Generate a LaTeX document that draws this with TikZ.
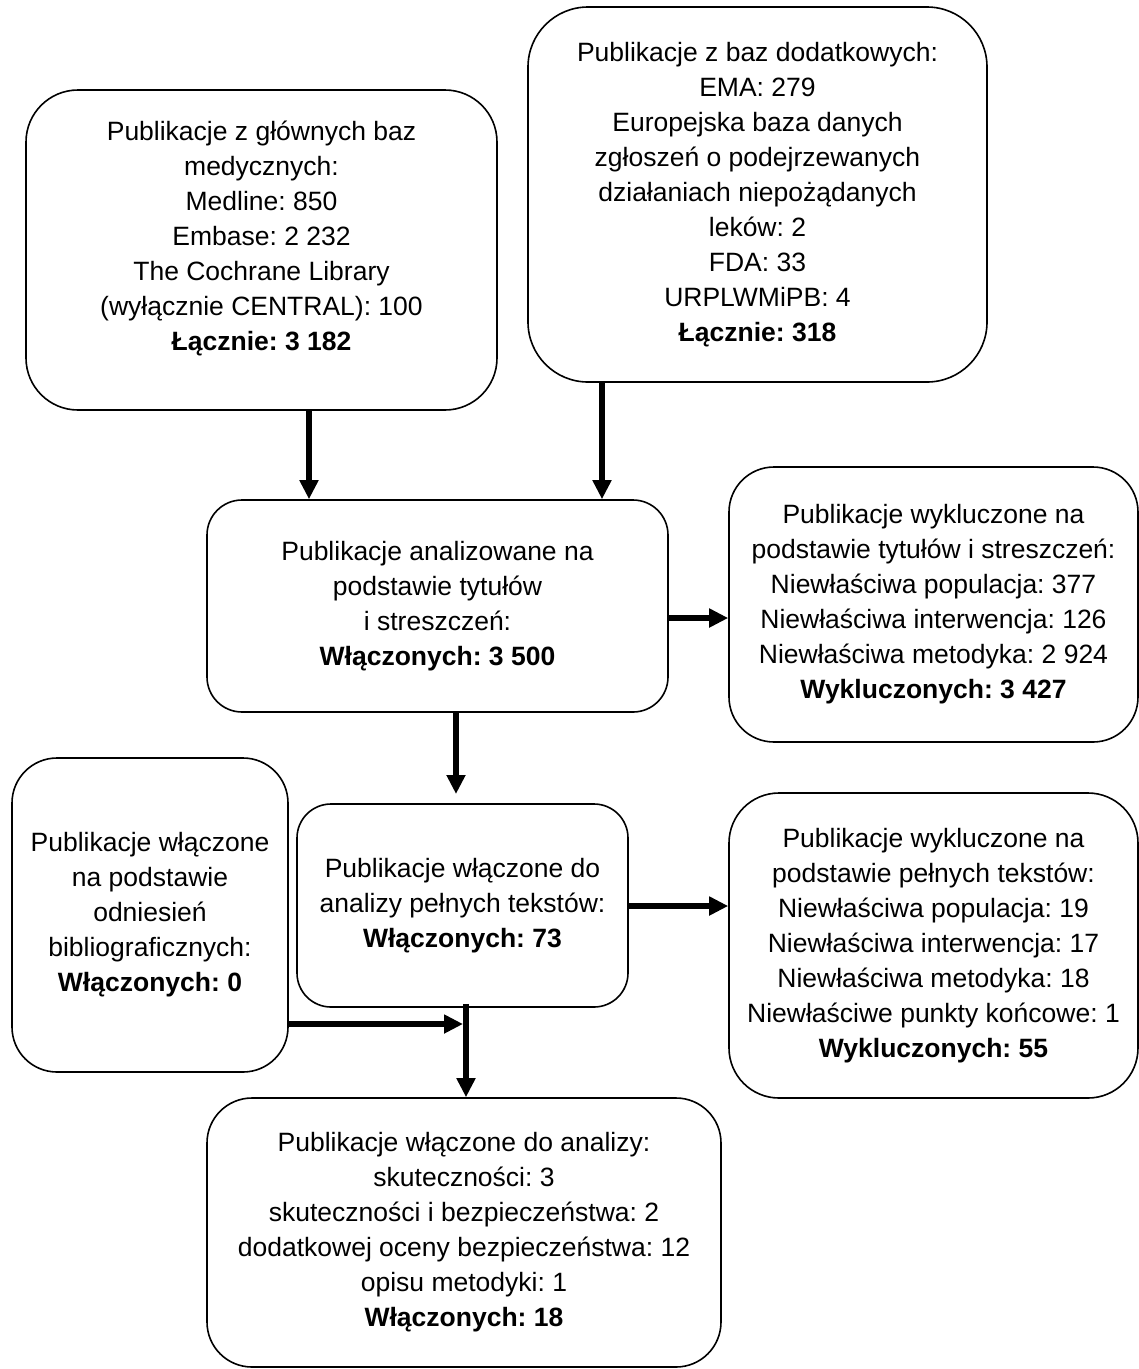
\documentclass[tikz,border=0pt]{standalone}
\usepackage{fontspec}
\setmainfont{Liberation Sans}
\usetikzlibrary{arrows.meta,calc}
\frenchspacing
\begin{document}
\begin{tikzpicture}[x=1pt,y=-1pt,
  box/.style={draw=black, line width=1.6pt, rectangle, align=center, inner sep=0pt, fill=white,
    font=\fontsize{26.5}{35}\selectfont},
  arr/.style={line width=5.5pt, -{Triangle[length=19pt,width=18pt]}}]
\fill[white] (0,0) rectangle (1139,1369);
\useasboundingbox (0,0) rectangle (1139,1369);

% boxes
\node[box, minimum width=471pt, minimum height=320pt, rounded corners=52pt] (b1) at (261.5,250)
 {\raisebox{5pt}[0pt][0pt]{\begin{tabular}{@{}c@{}}Publikacje z głównych baz\\ medycznych:\\ Medline: 850\\ Embase: 2 232\\ The Cochrane Library\\ (wyłącznie CENTRAL): 100\\ \textbf{Łącznie: 3 182}\end{tabular}}};

\node[box, minimum width=459pt, minimum height=375pt, rounded corners=60pt] (b2) at (757.5,194.5)
 {Publikacje z baz dodatkowych:\\ EMA: 279\\ Europejska baza danych\\ zgłoszeń o podejrzewanych\\ działaniach niepożądanych\\ leków: 2\\ FDA: 33\\ URPLWMiPB: 4\\ \textbf{Łącznie: 318}};

\node[box, minimum width=461pt, minimum height=212pt, rounded corners=35pt] (b3) at (437.5,606)
 {Publikacje analizowane na\\ podstawie tytułów\\ i streszczeń:\\ \textbf{Włączonych: 3 500}};

\node[box, minimum width=409pt, minimum height=275pt, rounded corners=45pt] (b4) at (933.5,604.5)
 {Publikacje wykluczone na\\ podstawie tytułów i streszczeń:\\ Niewłaściwa populacja: 377\\ Niewłaściwa interwencja: 126\\ Niewłaściwa metodyka: 2 924\\ \textbf{Wykluczonych: 3 427}};

\node[box, minimum width=276pt, minimum height=314pt, rounded corners=45pt] (b5) at (150,915)
 {Publikacje włączone\\ na podstawie\\ odniesień\\ bibliograficznych:\\ \textbf{Włączonych: 0}};

\node[box, minimum width=331pt, minimum height=203pt, rounded corners=34pt] (b6) at (462.5,905.5)
 {Publikacje włączone do\\ analizy pełnych tekstów:\\ \textbf{Włączonych: 73}};

\node[box, minimum width=409pt, minimum height=305pt, rounded corners=50pt] (b7) at (933.5,945.5)
 {Publikacje wykluczone na\\ podstawie pełnych tekstów:\\ Niewłaściwa populacja: 19\\ Niewłaściwa interwencja: 17\\ Niewłaściwa metodyka: 18\\ Niewłaściwe punkty końcowe: 1\\ \textbf{Wykluczonych: 55}};

\node[box, minimum width=514pt, minimum height=269pt, rounded corners=45pt] (b8) at (464,1232.5)
 {Publikacje włączone do analizy:\\ skuteczności: 3\\ skuteczności i bezpieczeństwa: 2\\ dodatkowej oceny bezpieczeństwa: 12\\ opisu metodyki: 1\\ \textbf{Włączonych: 18}};

% helper coordinates
\coordinate (x1) at (309,0);
\coordinate (x2) at (602,0);
\coordinate (y3) at (0,618);
\coordinate (x4) at (456,0);
\coordinate (t4) at (456,794);
\coordinate (y5) at (0,906);
\coordinate (x6) at (466,0);
\coordinate (j) at (463,1024);

% connectors
\draw[arr] (b1.south -| x1) -- (b3.north -| x1);
\draw[arr] (b2.south -| x2) -- (b3.north -| x2);
\draw[arr] (b3.east |- y3) -- (b4.west |- y3);
\draw[arr] (b3.south -| x4) -- (t4);
\draw[arr] (b6.east |- y5) -- (b7.west |- y5);
\draw[arr] ($(b6.south -| x6)+(0,-4)$) -- (b8.north -| x6);
\draw[arr] (b5.east |- j) -- (j);
\end{tikzpicture}
\end{document}
